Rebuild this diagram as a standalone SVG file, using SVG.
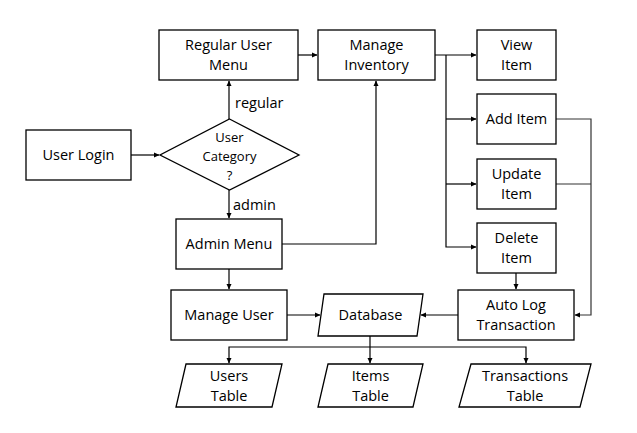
<svg xmlns="http://www.w3.org/2000/svg" width="637" height="433" viewBox="0 0 637 433">
<style>
.n{fill:#fff;stroke:#000;stroke-width:1.3}
.t{font-family:"Open Sans","Liberation Sans",sans-serif;font-size:14.5px;fill:#000;text-anchor:middle}
.s{font-size:13px}
.l{text-anchor:start}
.c{fill:none;stroke:#000;stroke-width:1.2}
.g{stroke:#333}
</style>
<defs>
<marker id="a" markerWidth="6" markerHeight="6" refX="5" refY="3" orient="auto" markerUnits="userSpaceOnUse">
<path d="M0,0.5 L5.5,3 L0,5.5 Z" fill="#000"/>
</marker>
</defs>
<rect width="637" height="433" fill="#fff"/>
<g id="connectors">
<path class="c" d="M131,155 H159" marker-end="url(#a)"/>
<path class="c" d="M229,119 V81" marker-end="url(#a)"/>
<path class="c" d="M229,190 V218" marker-end="url(#a)"/>
<path class="c" d="M298,55 H317" marker-end="url(#a)"/>
<path class="c" d="M282,244 H376 V81" marker-end="url(#a)"/>
<path class="c" d="M435,55 H476" marker-end="url(#a)"/>
<path class="c" d="M446,55 V247 H476" marker-end="url(#a)"/>
<path class="c" d="M446,119 H476" marker-end="url(#a)"/>
<path class="c" d="M446,184 H476" marker-end="url(#a)"/>
<path class="c g" d="M556,119 H591 V315 H575" marker-end="url(#a)"/>
<path class="c g" d="M556,184 H591"/>
<path class="c" d="M516,273 V289" marker-end="url(#a)"/>
<path class="c" d="M229,269 V289" marker-end="url(#a)"/>
<path class="c" d="M287,315 H320" marker-end="url(#a)"/>
<path class="c" d="M458,315 H421" marker-end="url(#a)"/>
<path class="c" d="M370,336 V363" marker-end="url(#a)"/>
<path class="c" d="M370,347 H229 V363" marker-end="url(#a)"/>
<path class="c" d="M370,347 H526 V363" marker-end="url(#a)"/>
</g>
<g id="user-login"><rect class="n" x="26" y="130" width="105" height="50"/><text class="t" x="78.5" y="160">User Login</text></g>
<g id="user-category"><polygon class="n" points="229.5,119 299,155 229.5,190 160,155"/>
<text class="t s" x="229.5" y="142">User</text><text class="t s" x="229.5" y="161">Category</text><text class="t s" x="229.5" y="180">?</text></g>
<g id="label-regular"><text class="t l" x="235" y="108">regular</text></g>
<g id="label-admin"><text class="t l" x="233" y="210">admin</text></g>
<g id="regular-user-menu"><rect class="n" x="159" y="30" width="139" height="50"/><text class="t" x="228.5" y="50">Regular User</text><text class="t" x="228.5" y="70">Menu</text></g>
<g id="manage-inventory"><rect class="n" x="318" y="30" width="117" height="50"/><text class="t" x="376.5" y="50">Manage</text><text class="t" x="376.5" y="70">Inventory</text></g>
<g id="view-item"><rect class="n" x="477" y="30" width="79" height="50"/><text class="t" x="516.5" y="50">View</text><text class="t" x="516.5" y="70">Item</text></g>
<g id="add-item"><rect class="n" x="477" y="94" width="79" height="50"/><text class="t" x="516.5" y="124">Add Item</text></g>
<g id="update-item"><rect class="n" x="477" y="159" width="79" height="50"/><text class="t" x="516.5" y="179">Update</text><text class="t" x="516.5" y="199">Item</text></g>
<g id="delete-item"><rect class="n" x="477" y="223" width="79" height="50"/><text class="t" x="516.5" y="243">Delete</text><text class="t" x="516.5" y="263">Item</text></g>
<g id="admin-menu"><rect class="n" x="176" y="219" width="106" height="50"/><text class="t" x="229" y="249">Admin Menu</text></g>
<g id="manage-user"><rect class="n" x="171" y="290" width="116" height="50"/><text class="t" x="229" y="320">Manage User</text></g>
<g id="database"><polygon class="n" points="324,294 423,294 417,336 318,336"/><text class="t" x="370.5" y="320">Database</text></g>
<g id="auto-log"><rect class="n" x="458" y="290" width="116" height="50"/><text class="t" x="516" y="310">Auto Log</text><text class="t" x="516" y="330">Transaction</text></g>
<g id="users-table"><polygon class="n" points="186,364 282,364 272,407 176,407"/><text class="t" x="229" y="381">Users</text><text class="t" x="229" y="401">Table</text></g>
<g id="items-table"><polygon class="n" points="328,364 423,364 413,407 318,407"/><text class="t" x="370.5" y="381">Items</text><text class="t" x="370.5" y="401">Table</text></g>
<g id="transactions-table"><polygon class="n" points="471,364 591,364 580,407 459,407"/><text class="t" x="525" y="381">Transactions</text><text class="t" x="525" y="401">Table</text></g>
</svg>
